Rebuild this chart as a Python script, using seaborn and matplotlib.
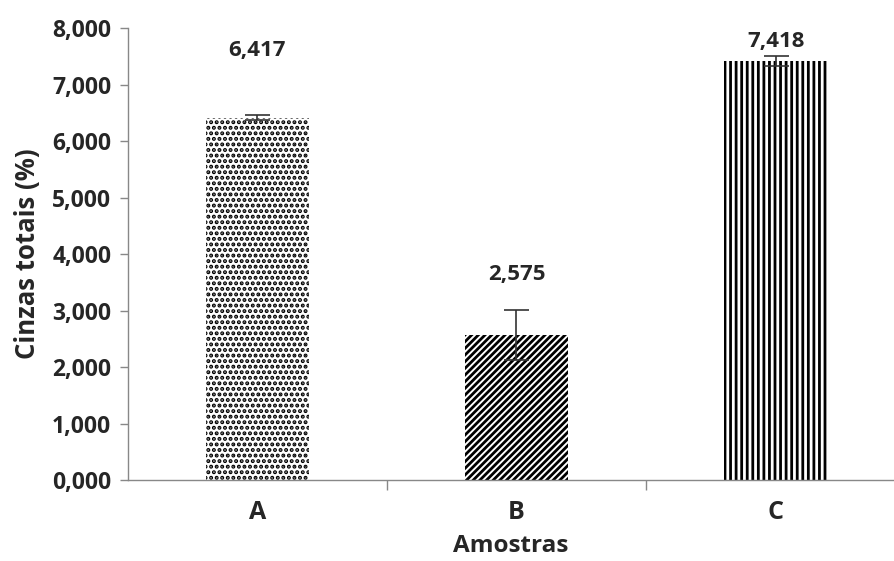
import numpy as np
import pandas as pd
import seaborn as sns
import matplotlib.pyplot as plt
from matplotlib.ticker import FuncFormatter, FixedLocator

# data
amostras = ["A", "B", "C"]
cinzas = [6.417, 2.575, 7.418]
erro = [0.05, 0.44, 0.09]
hatches = ["...", "/////", "|||"]
label_offsets = [39, 18, 3]  # points above error bar

sns.set_theme(style="white")
plt.rcParams["font.family"] = ["Open Sans", "DejaVu Sans"]
plt.rcParams["hatch.linewidth"] = 2.0

df = pd.DataFrame({"Amostras": amostras, "Cinzas": cinzas})

fig = plt.figure(figsize=(8.94, 5.61), dpi=100)
ax = fig.add_axes([0.143, 0.144, 0.857, 0.806])

sns.barplot(data=df, x="Amostras", y="Cinzas", color="white", width=0.4,
            edgecolor="none", linewidth=0, ax=ax, errorbar=None)
for patch, h in zip(ax.patches, hatches):
    patch.set_hatch(h)
    patch.set_edgecolor("black")
    patch.set_linewidth(0)

ax.errorbar(range(len(amostras)), cinzas, yerr=erro, fmt="none",
            ecolor="#333333", elinewidth=1.2, capsize=9, capthick=1.2)

for i, (v, e, off) in enumerate(zip(cinzas, erro, label_offsets)):
    ax.annotate(f"{v:.3f}".replace(".", ","), xy=(i, v + e), xytext=(0, off),
                textcoords="offset points", ha="center", va="bottom",
                fontsize=16, fontweight="bold")

ax.set_ylim(0, 8)
ax.set_xlim(-0.5, 2.457)
ax.yaxis.set_major_locator(FixedLocator(np.arange(0, 9, 1)))
ax.yaxis.set_major_formatter(FuncFormatter(lambda y, _: f"{y:,.3f}".replace(".", ",")))
ax.xaxis.set_minor_locator(FixedLocator([0.5, 1.5]))

for s in ["top", "right"]:
    ax.spines[s].set_visible(False)
for s in ["left", "bottom"]:
    ax.spines[s].set_color("#888888")
    ax.spines[s].set_linewidth(1)

ax.tick_params(axis="y", which="major", direction="out", length=6, color="#888888",
               width=1, labelsize=16.5, left=True, pad=6)
ax.tick_params(axis="x", which="major", length=0, labelsize=18, pad=14)
ax.tick_params(axis="x", which="minor", direction="out", length=7, color="#888888",
               width=1, bottom=True)
for lbl in ax.get_xticklabels() + ax.get_yticklabels():
    lbl.set_fontweight("bold")

ax.set_xlabel("Amostras", fontsize=17.5, fontweight="bold", labelpad=7)
ax.set_ylabel("Cinzas totais (%)", fontsize=18.5, fontweight="bold", labelpad=8)

fig.savefig("out.png", dpi=100)
